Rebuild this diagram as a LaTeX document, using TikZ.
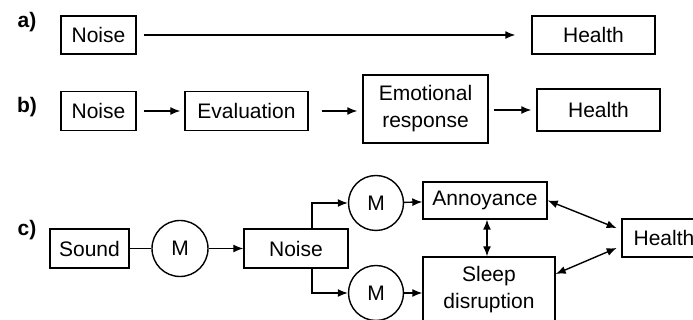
\documentclass[tikz,border=0pt]{standalone}
\usepackage{fontspec}
\setmainfont{Liberation Sans}
\usetikzlibrary{arrows.meta}

\begin{document}
\begin{tikzpicture}[x=0.5pt, y=-0.5pt, line width=0.7pt,
  every node/.style={font=\fontsize{10.5}{13.5}\selectfont},
  boxnode/.style={draw, rectangle, inner sep=0pt, align=center},
  mcirc/.style={draw, circle, minimum size=28pt, inner sep=0pt},
  lbl/.style={font=\fontsize{10.5}{13.5}\selectfont\bfseries},
  arr/.style={-{Latex[length=5pt,width=4pt]}},
  darr/.style={{Latex[length=5pt,width=4pt]}-{Latex[length=5pt,width=4pt]}}]
\useasboundingbox (0,0) rectangle (693,320);
\clip (0,0) rectangle (693,320);
% a)
\node[lbl] (la) at (27,22) {a)};
\node[boxnode, minimum width=37.5pt, minimum height=19pt] (noiseA) at (98.5,35) {Noise};
\node[boxnode, minimum width=61.5pt, minimum height=19pt] (healthA) at (593.5,35) {Health};
\draw[arr, shorten <=3.5pt, shorten >=8pt] (noiseA) -- (healthA);
% b)
\node[lbl] (lb) at (27,107) {b)};
\node[boxnode, minimum width=37.5pt, minimum height=19.5pt] (noiseB) at (98.5,111) {Noise};
\node[boxnode, minimum width=61.5pt, minimum height=19.5pt] (evalB) at (246.5,111) {Evaluation};
\node[boxnode, minimum width=62.5pt, minimum height=34pt] (emoB) at (425.5,109) {Emotional\\response};
\node[boxnode, minimum width=61.5pt, minimum height=21pt] (healthB) at (598.5,110) {Health};
\draw[arr, shorten <=3.5pt, shorten >=2pt] (noiseB) -- (evalB);
\draw[arr, shorten <=6.5pt, shorten >=2.5pt] (evalB) -- (evalB -| emoB.west);
\draw[arr, shorten <=2.5pt, shorten >=2.5pt] (emoB.east |- healthB) -- (healthB);
% c)
\node[lbl] (lc) at (27,230) {c)};
\node[boxnode, minimum width=39.5pt, minimum height=19.5pt] (soundC) at (89.5,248.5) {Sound};
\node[mcirc] (mC) at (180,248.5) {M};
\node[boxnode, minimum width=52pt, minimum height=19.5pt] (noiseC) at (296,248.5) {Noise};
\node[mcirc, minimum size=27.5pt] (mUp) at (376,203) {M};
\node[mcirc, minimum size=27.5pt] (mLow) at (376,293) {M};
\node[boxnode, minimum width=62pt, minimum height=18.5pt] (annoy) at (485,200.5) {Annoyance};
\node[boxnode, minimum width=66pt, minimum height=33pt] (sleep) at (489,290) {Sleep\\disruption};
\node[boxnode, minimum width=42pt, minimum height=19pt] (healthC) at (664,238) {Health};
\draw (soundC) -- (mC);
\draw[arr] (mC) -- (noiseC);
\draw[arr] ([xshift=8pt]noiseC.north) |- (mUp);
\draw[arr] ([xshift=8pt]noiseC.south) |- (mLow);
\draw[arr] (mUp) -- (annoy);
\draw[arr] (mLow) -- (mLow -| sleep.west);
\draw[darr] ([xshift=1pt]annoy.south) -- ([xshift=1pt]annoy.south |- sleep.north);
\draw[darr, shorten >=2.5pt] (annoy.east) -- ([yshift=4pt]healthC.west);
\draw[darr, shorten >=2.5pt] ([yshift=8pt]sleep.east) -- ([yshift=-4pt]healthC.west);
\end{tikzpicture}
\end{document}
